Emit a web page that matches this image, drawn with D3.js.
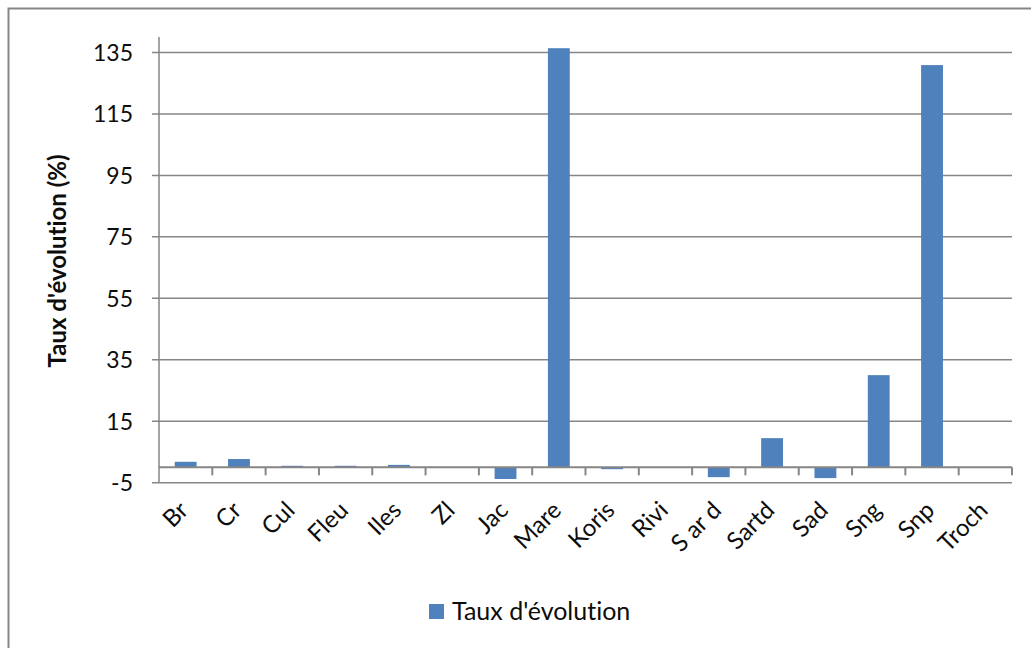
<!DOCTYPE html>
<html>
<head>
<meta charset="utf-8">
<script src="https://cdn.jsdelivr.net/npm/d3@7"></script>
<style>
  html, body { margin: 0; padding: 0; background: #fff; }
  svg { display: block; font-family: Lato, "Open Sans", "Liberation Sans", sans-serif; font-variant-ligatures: none; }
</style>
</head>
<body>
<svg id="chart" width="1031" height="648"></svg>
<script>
// Taux d'évolution par site (%)
const categories = ["Br", "Cr", "Cul", "Fleu", "Iles", "Zl", "Jac", "Mare", "Koris", "Rivi", "S ar d", "Sartd", "Sad", "Sng", "Snp", "Troch"];
const values = [1.8, 2.7, 0.5, 0.5, 0.8, 0, -3.8, 136.4, -0.6, 0, -3.2, 9.5, -3.5, 30.0, 130.9, 0];
const yTicks = [-5, 15, 35, 55, 75, 95, 115, 135];
const seriesName = "Taux d'évolution";
const yTitle = "Taux d'évolution (%)";

const svg = d3.select("#chart");
const gridColor = "#868686";
const barColor = "#4f81bd";
const textColor = "#0d0d0d";

// outer chart frame
svg.append("rect")
  .attr("x", 8.5).attr("y", 8.5)
  .attr("width", 1040).attr("height", 660)
  .attr("fill", "none").attr("stroke", gridColor).attr("stroke-width", 2);

const plotLeft = 159, plotRight = 1012, plotTop = 37;
const y = d3.scaleLinear().domain([-5, 135]).range([482.7, 52.5]);
const x = d3.scaleBand().domain(categories).range([plotLeft, plotRight]).paddingInner(0.59).paddingOuter(0.295);
const xOuter = d3.scaleBand().domain(categories).range([plotLeft, plotRight]);

// horizontal gridlines
svg.append("g").selectAll("line").data(yTicks).join("line")
  .attr("x1", plotLeft - 7).attr("x2", plotRight)
  .attr("y1", d => y(d)).attr("y2", d => y(d))
  .attr("stroke", gridColor).attr("stroke-width", 1.5);

// vertical axis line
svg.append("line")
  .attr("x1", plotLeft).attr("x2", plotLeft)
  .attr("y1", plotTop).attr("y2", y(-5))
  .attr("stroke", gridColor).attr("stroke-width", 1.5);

// y tick labels
svg.append("g").selectAll("text").data(yTicks).join("text")
  .attr("x", plotLeft - 26).attr("y", d => y(d))
  .attr("dy", "0.36em")
  .attr("text-anchor", "end")
  .attr("font-size", 23)
  .attr("fill", textColor)
  .text(d => d);

// y title
svg.append("text")
  .attr("transform", "translate(66,261) rotate(-90)")
  .attr("text-anchor", "middle")
  .attr("font-size", 24)
  .attr("font-weight", "bold")
  .attr("fill", textColor)
  .text(yTitle);

// bars
svg.append("g").selectAll("rect").data(values).join("rect")
  .attr("x", (d, i) => x(categories[i]))
  .attr("width", x.bandwidth())
  .attr("y", d => y(Math.max(0, d)))
  .attr("height", d => Math.abs(y(d) - y(0)))
  .attr("fill", barColor);

// category axis at zero
svg.append("line")
  .attr("x1", plotLeft).attr("x2", plotRight)
  .attr("y1", y(0)).attr("y2", y(0))
  .attr("stroke", gridColor).attr("stroke-width", 2);

const boundaries = categories.map(c => xOuter(c) + xOuter.bandwidth());
svg.append("g").selectAll("line").data(boundaries).join("line")
  .attr("x1", d => d).attr("x2", d => d)
  .attr("y1", y(0)).attr("y2", y(0) + 8)
  .attr("stroke", gridColor).attr("stroke-width", 2);

// category labels, rotated 45°
svg.append("g").selectAll("text").data(categories).join("text")
  .attr("transform", c => `translate(${xOuter(c) + xOuter.bandwidth() / 2 + 4},${y(-5) + 29}) rotate(-45)`)
  .attr("text-anchor", "end")
  .attr("font-size", 24)
  .attr("fill", textColor)
  .text(c => c);

// legend
const legend = svg.append("g");
legend.append("rect")
  .attr("x", 429).attr("y", 604).attr("width", 15).attr("height", 15)
  .attr("fill", barColor);
legend.append("text")
  .attr("x", 452).attr("y", 619.5)
  .attr("font-size", 25)
  .attr("fill", textColor)
  .text(seriesName);
</script>
</body>
</html>
